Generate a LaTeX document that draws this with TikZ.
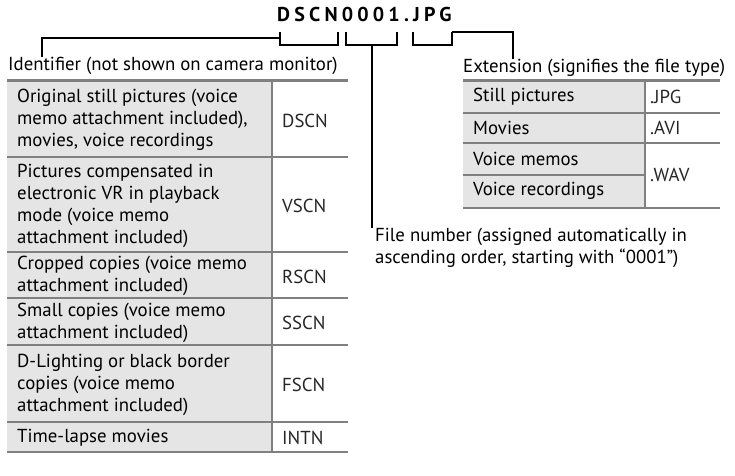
\documentclass[tikz,border=0pt]{standalone}
\usepackage{fontspec}
\setmainfont{PT Sans}
\begin{document}
\begin{tikzpicture}[x=1pt,y=-1pt,
  txt/.style={anchor=west,align=left,inner sep=0pt,font=\fontsize{18.8}{22}\selectfont},
  code/.style={anchor=west,inner sep=0pt,font=\fontsize{18.8}{22}\selectfont,text=black!85},
  rule/.style={draw=black!50,line width=2.6pt},
  vrule/.style={draw=black!50,line width=2pt},
  lead/.style={draw=black,line width=2pt}]
\useasboundingbox (0,0) rectangle (735,475);
% ---------- title ----------
\node[inner sep=0pt,anchor=base west] (title) at (277,21)
  {\fontsize{20}{22}\selectfont\bfseries\addfontfeature{LetterSpace=21}DSCN0001.JPG};
% ---------- left table ----------
\fill[black!10] (7,80.7) rectangle (272,452);
\foreach \yy in {80.7,157,252,298,345,422,452} \draw[rule] (7,\yy) -- (348,\yy);
\draw[vrule] (272,79) -- (272,453);
\node[txt] (r1) at (17,120) {Original still pictures (voice\\memo attachment included),\\movies, voice recordings};
\node[txt] (r2) at (17,206) {Pictures compensated in\\electronic VR in playback\\mode (voice memo\\attachment included)};
\node[txt] (r3) at (17,276) {Cropped copies (voice memo\\attachment included)};
\node[txt] (r4) at (17,322.5) {Small copies (voice memo\\attachment included)};
\node[txt] (r5) at (17,385) {D-Lighting or black border\\copies (voice memo\\attachment included)};
\node[txt] (r6) at (17,438) {Time-lapse movies};
\node[code] (c1) at (282,121) {DSCN};
\node[code] (c2) at (282,206) {VSCN};
\node[code] (c3) at (282,277) {RSCN};
\node[code] (c4) at (282,323) {SSCN};
\node[code] (c5) at (282,385) {FSCN};
\node[code] (c6) at (282,438) {INTN};
% ---------- right table ----------
\fill[black!10] (463,80.7) rectangle (645,208);
\foreach \yy in {80.7,113,143,208} \draw[rule] (463,\yy) -- (720,\yy);
\draw[draw=black!50,line width=1.8pt] (463,175) -- (645,175);
\draw[vrule] (645,79) -- (645,209);
\node[txt] (e1) at (473,97) {Still pictures};
\node[txt] (e2) at (473,128) {Movies};
\node[txt] (e3) at (473,159) {Voice memos};
\node[txt] (e4) at (473,191) {Voice recordings};
\node[code] (x1) at (650,97) {.JPG};
\node[code] (x2) at (650,128) {.AVI};
\node[code] (x3) at (650,175) {.WAV};
% ---------- labels ----------
\node[txt,anchor=north west] (ident) at (8,57) {Identifier (not shown on camera monitor)};
\node[txt,anchor=north west] (ext) at (463,59) {Extension (signifies the file type)};
\node[txt] (fnum) at (375,248) {File number (assigned automatically in\\ascending order, starting with “0001”)};
% ---------- brackets and leaders ----------
\coordinate (bA1) at (280,32); \coordinate (bA2) at (338,32);
\coordinate (bB1) at (346,32); \coordinate (bB2) at (397,32);
\coordinate (bC1) at (413,32); \coordinate (bC2) at (452,32);
\draw[lead] (bA1) -- (280,45) -- (338,45) -- (bA2);
\draw[lead] (bB1) -- (346,45) -- (397,45) -- (bB2);
\draw[lead] (bC1) -- (413,45) -- (452,45) -- (bC2);
\draw[lead] (280,37.5) -- (42,37.5) -- (ident.north west -| 42,0);
\draw[lead] (371.5,45) -- (fnum.north west -| 371.5,0);
\draw[lead] (bC2) -- (513,32) -- (ext.north west -| 513,0);
\end{tikzpicture}
\end{document}
